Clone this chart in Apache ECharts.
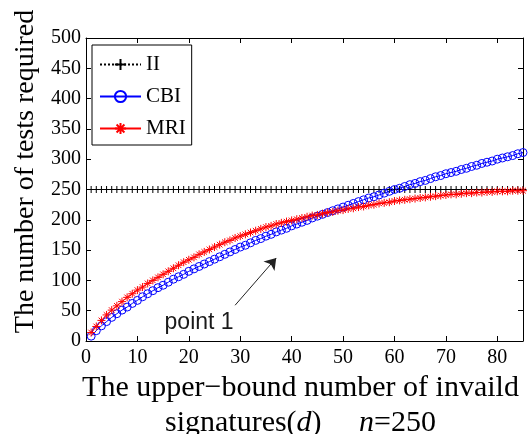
<!DOCTYPE html>
<html>
<head>
<meta charset="utf-8">
<title>tests required</title>
<script src="https://cdn.jsdelivr.net/npm/echarts@6/dist/echarts.min.js"></script>
<style>
  html, body { margin: 0; padding: 0; background: #fff; }
  #chart-box { width: 532px; height: 434px; }
</style>
</head>
<body>
<div id="chart-box"></div>
<script>
// upper-bound number of invalid signatures d
const dValues = [
  1, 2, 3, 4, 5, 6, 7, 8, 9, 10,
  11, 12, 13, 14, 15, 16, 17, 18, 19, 20,
  21, 22, 23, 24, 25, 26, 27, 28, 29, 30,
  31, 32, 33, 34, 35, 36, 37, 38, 39, 40,
  41, 42, 43, 44, 45, 46, 47, 48, 49, 50,
  51, 52, 53, 54, 55, 56, 57, 58, 59, 60,
  61, 62, 63, 64, 65, 66, 67, 68, 69, 70,
  71, 72, 73, 74, 75, 76, 77, 78, 79, 80,
  81, 82, 83, 84, 85
];
const iiValues = [
  250, 250, 250, 250, 250, 250, 250, 250, 250, 250,
  250, 250, 250, 250, 250, 250, 250, 250, 250, 250,
  250, 250, 250, 250, 250, 250, 250, 250, 250, 250,
  250, 250, 250, 250, 250, 250, 250, 250, 250, 250,
  250, 250, 250, 250, 250, 250, 250, 250, 250, 250,
  250, 250, 250, 250, 250, 250, 250, 250, 250, 250,
  250, 250, 250, 250, 250, 250, 250, 250, 250, 250,
  250, 250, 250, 250, 250, 250, 250, 250, 250, 250,
  250, 250, 250, 250, 250
];
const cbiValues = [
  8, 17, 25, 32, 39, 45, 51, 56, 62, 67,
  73, 78, 83, 88, 92, 97, 102, 106, 110, 115,
  119, 123, 127, 131, 135, 139, 143, 147, 151, 155,
  158, 162, 166, 169, 173, 176, 180, 183, 186, 190,
  193, 196, 199, 203, 206, 209, 212, 215, 218, 221,
  224, 227, 230, 233, 236, 238, 241, 244, 247, 250,
  252, 255, 258, 260, 263, 265, 268, 271, 273, 276,
  278, 280, 283, 285, 288, 290, 293, 295, 297, 300,
  302, 304, 306, 309, 311
];
const mriValues = [
  14, 24, 34, 43, 51, 58, 65, 72, 78, 84,
  89, 95, 100, 105, 110, 115, 120, 125, 130, 134,
  138, 143, 147, 151, 155, 159, 163, 166, 170, 173,
  176, 179, 182, 185, 188, 190, 193, 195, 197, 199,
  201, 203, 205, 207, 208, 210, 212, 213, 215, 216,
  218, 219, 221, 222, 224, 225, 227, 228, 229, 231,
  232, 233, 234, 235, 236, 237, 238, 239, 240, 241,
  242, 242, 243, 244, 244, 245, 245, 246, 246, 247,
  247, 247, 248, 248, 248
];
const seriesNames = ['II', 'CBI', 'MRI'];
// annotation "point 1" (data coordinates)
const arrowFrom = [29, 59];
const arrowTo = [37, 137];
const noteAt = [22, 31];

const serif = 'Liberation Serif';
const plusPath = 'path://M0,-1L0,1M-1,0L1,0';
const starPath = 'path://M0,-1L0,1M-1,0L1,0M-0.7,-0.7L0.7,0.7M-0.7,0.7L0.7,-0.7';

function pairs(ys) {
  return dValues.map((d, i) => [d, ys[i]]);
}

const chart = echarts.init(document.getElementById('chart-box'));

const boxAxis = {
  axisLine: { onZero: false, lineStyle: { color: '#000', width: 1 } },
  axisTick: { inside: true, length: 5, lineStyle: { color: '#000', width: 1 } },
  splitLine: { show: false }
};

let option = {
  animation: false,
  backgroundColor: '#fff',
  grid: { left: 86, right: 9, top: 38, bottom: 93, containLabel: false, outerBoundsMode: 'none' },
  legend: {
    data: seriesNames,
    orient: 'vertical',
    left: 92,
    top: 45,
    padding: [9, 6, 6, 7],
    itemWidth: 41,
    itemHeight: 14,
    itemGap: 11,
    borderColor: '#000',
    borderWidth: 1,
    borderRadius: 0,
    backgroundColor: '#fff',
    textStyle: { fontFamily: serif, fontSize: 21, color: '#000' }
  },
  xAxis: [
    Object.assign({
      type: 'value', min: 0, max: 85, interval: 10, position: 'bottom',
      axisLabel: {
        color: '#000', fontFamily: serif, fontSize: 20, margin: 7,
        formatter: v => (v % 10 === 0 ? String(v) : '')
      },
      name: '{r|The upper\u2212bound number of invaild}\n{r|signatures(}{i|d}{r|)     }{i|n}{r|=250}',
      nameLocation: 'middle',
      nameGap: 24,
      nameTextStyle: {
        color: '#000',
        padding: [0, 8, 0, 0],
        rich: {
          r: { fontFamily: serif, fontSize: 30, lineHeight: 35, color: '#000' },
          i: { fontFamily: serif, fontSize: 30, lineHeight: 35, fontStyle: 'italic', color: '#000' }
        }
      }
    }, boxAxis),
    Object.assign({
      type: 'value', min: 0, max: 85, interval: 10, position: 'top',
      axisLabel: { show: false }
    }, boxAxis)
  ],
  yAxis: [
    Object.assign({
      type: 'value', min: 0, max: 500, interval: 50, position: 'left',
      axisLabel: { color: '#000', fontFamily: serif, fontSize: 20, margin: 5 },
      name: 'The number of tests required',
      nameLocation: 'middle',
      nameGap: 45,
      nameTextStyle: { fontFamily: serif, fontSize: 28, color: '#000', padding: [0, 0, 0, 36] }
    }, boxAxis),
    Object.assign({
      type: 'value', min: 0, max: 500, interval: 50, position: 'right',
      axisLabel: { show: false }
    }, boxAxis)
  ],
  series: [
    {
      name: 'II',
      type: 'line',
      data: pairs(iiValues),
      symbol: plusPath,
      symbolSize: 7,
      itemStyle: { color: '#000', borderColor: '#000', borderWidth: 1 },
      lineStyle: { color: '#000', width: 1, type: 'dotted' }
    },
    {
      name: 'CBI',
      type: 'line',
      data: pairs(cbiValues),
      symbol: 'circle',
      symbolSize: 8,
      itemStyle: { color: 'rgba(0,0,0,0)', borderColor: '#0000ff', borderWidth: 1 },
      lineStyle: { color: '#0000ff', width: 1 },
      markLine: {
        silent: true,
        symbol: ['none', 'arrow'],
        symbolSize: 11,
        label: { show: false },
        lineStyle: { color: '#222', width: 1, type: 'solid' },
        data: [[{ coord: arrowFrom }, { coord: arrowTo }]]
      }
    },
    {
      name: 'MRI',
      type: 'line',
      data: pairs(mriValues),
      symbol: starPath,
      symbolSize: 8,
      itemStyle: { color: '#ff0000', borderColor: '#ff0000', borderWidth: 1 },
      lineStyle: { color: '#ff0000', width: 1 },
      markPoint: {
        silent: true,
        symbol: 'circle',
        symbolSize: 1,
        itemStyle: { color: 'rgba(0,0,0,0)' },
        label: {
          show: true, position: 'inside', formatter: 'point 1',
          color: '#1a1a1a', fontFamily: 'Liberation Sans', fontSize: 23
        },
        data: [{ coord: noteAt }]
      }
    }
  ]
};

chart.setOption(option);
</script>
</body>
</html>
